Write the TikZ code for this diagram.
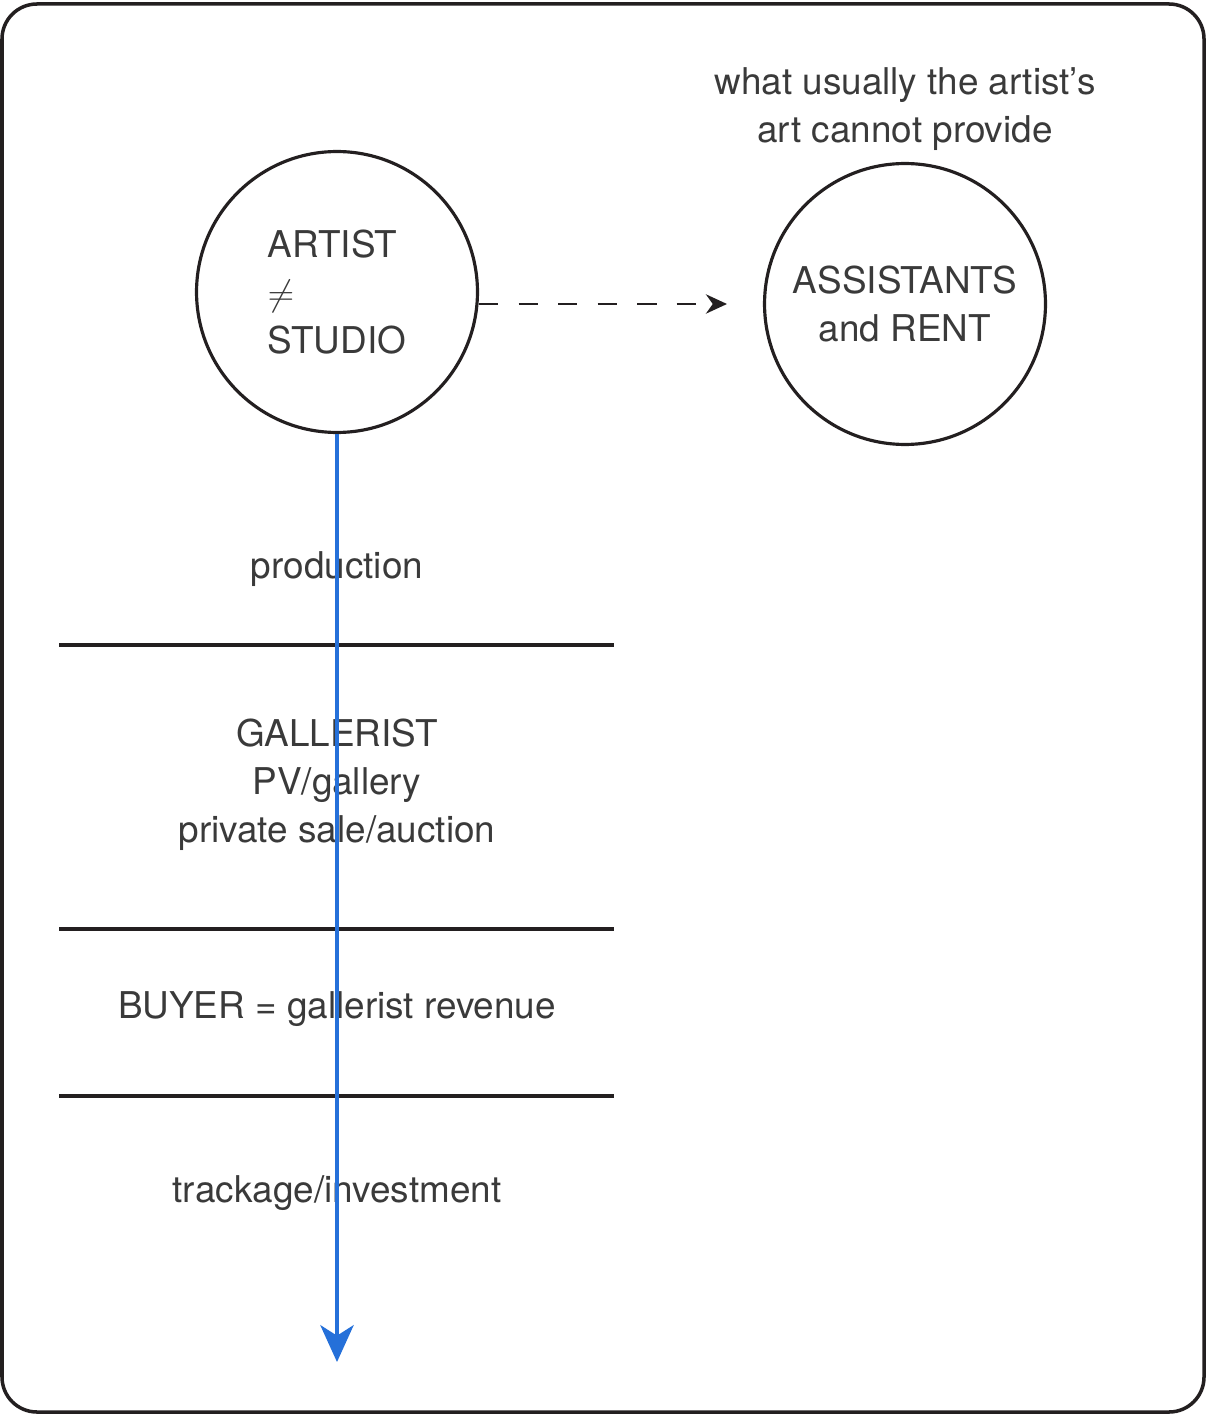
\documentclass[tikz,border=0pt]{standalone}
\usepackage{fontspec}
\setmainfont{TeX Gyre Heros}
\usepackage{xcolor}
\usepackage{tikz}
\usetikzlibrary{arrows.meta,positioning}
\definecolor{ChartInk}{HTML}{231F20}
\definecolor{ChartText}{HTML}{3A3A3A}
\definecolor{ChartFlow}{HTML}{2570D9}

\begin{document}
\begin{tikzpicture}[
  x=0.02cm,y=-0.02cm,
  font=\fontsize{21}{27.3}\selectfont,
  text=ChartText,
  roundnode/.style={circle,draw=ChartInk,line width=1.8pt,minimum size=5.62cm,inner sep=0pt},
  label/.style={align=center,inner sep=0pt},
  divider/.style={draw=ChartInk,line width=1.8pt},
]
  \useasboundingbox (0,0) rectangle (1208,1415);
  \draw[ChartInk,line width=2pt,rounded corners=0.7cm] (2,4) rectangle (1204,1412);

  % the two circles
  \node[roundnode,align=left] (artist) at (337,292)
    {ARTIST\\$\neq$\\STUDIO};
  \node[roundnode,align=center] (assist) at (905,304)
    {ASSISTANTS\\and RENT};
  \node[label] (provide) at (905,109)
    {what usually the artist's\\art cannot provide};

  \coordinate (dashend) at (727,304);
  \draw[ChartInk,line width=1.4pt,dash pattern=on 11pt off 11.5pt,
        -{Stealth[length=12pt,width=11pt]}] (dashend -| artist.east) -- (dashend);

  % stages along the flow
  \node[label] (production) at (337,569) {production};
  \node[label] (gallerist) at (337,785)
    {GALLERIST\\PV/gallery\\private sale/auction};
  \node[label] (buyer) at (337,1009) {BUYER = gallerist revenue};
  \node[label] (trackage) at (337,1193) {trackage/investment};

  \foreach \y in {645,929,1096}
    \draw[divider] (59,\y) -- (614,\y);

  \coordinate (flowend) at (337,1362);
  \draw[ChartFlow,line width=1.9pt,-{Stealth[length=21pt,width=19pt,inset=6pt]}]
    (artist.south) -- (flowend);
\end{tikzpicture}
\end{document}
